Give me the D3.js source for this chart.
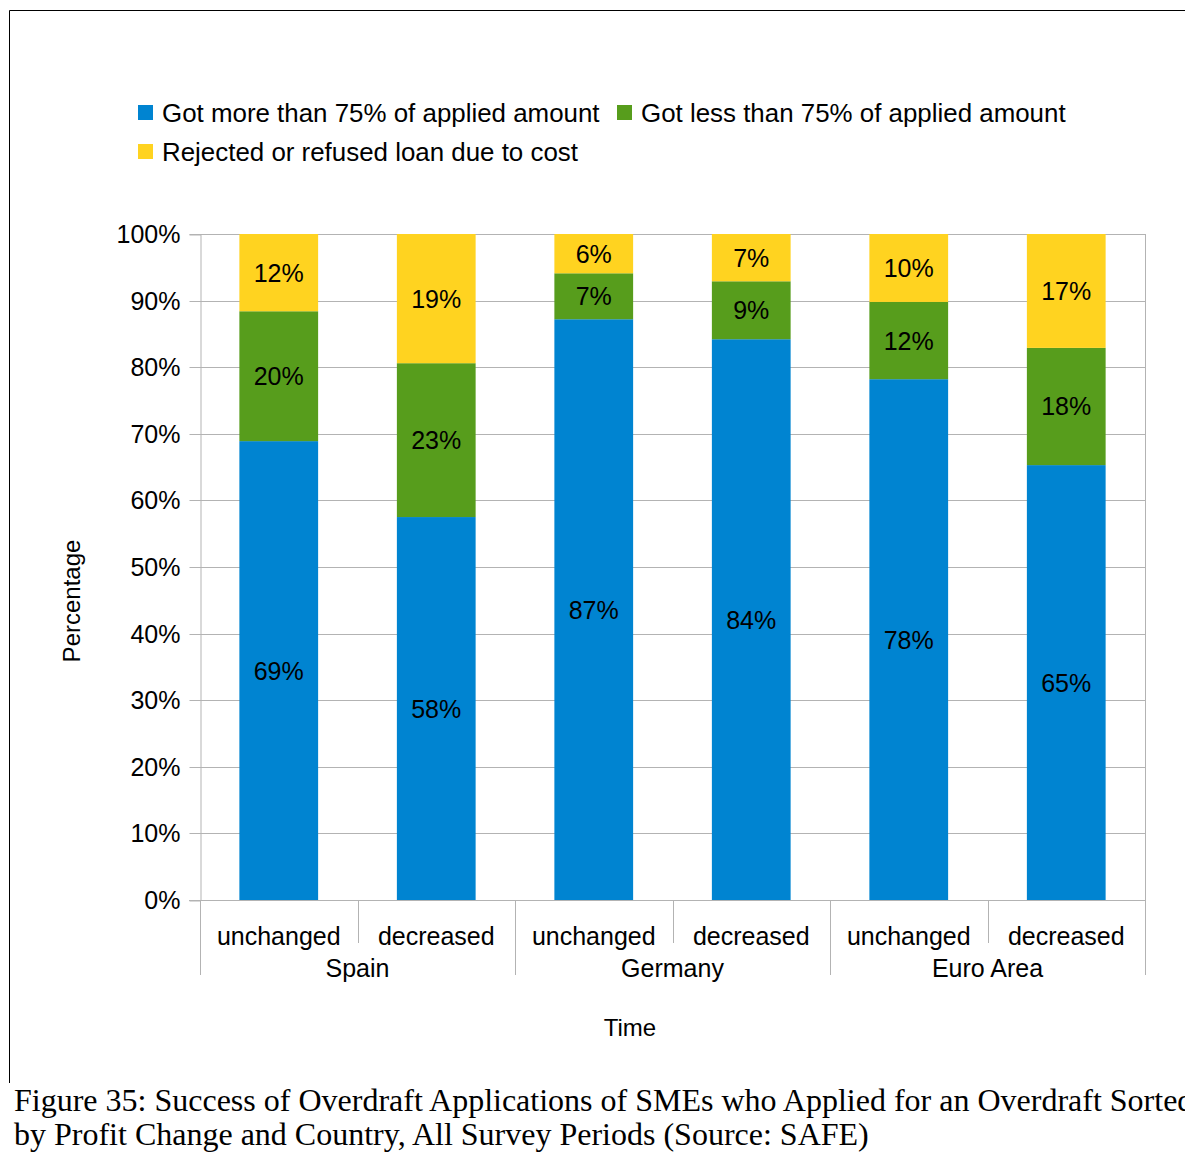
<!DOCTYPE html>
<html>
<head>
<meta charset="utf-8">
<script src="https://cdn.jsdelivr.net/npm/d3@7"></script>
<style>
  body { margin: 0; background: #fff; }
  svg text { font-family: "Liberation Sans", Arial, sans-serif; fill: #000; }
  .caption { font-family: "Liberation Serif", "Times New Roman", serif; }
</style>
</head>
<body>
<div id="chart"></div>
<script>
// data (percent of applicants)
const groups = ['Spain', 'Germany', 'Euro Area'];
const profitChange = ['unchanged', 'decreased'];
const gotMore = [68.9, 57.5, 87.2, 84.2, 78.2, 65.3];
const gotLess = [19.5, 23.1, 6.9, 8.7, 11.6, 17.6];
const rejected = [11.6, 19.4, 5.9, 7.1, 10.2, 17.1];
const seriesNames = ['Got more than 75% of applied amount', 'Got less than 75% of applied amount', 'Rejected or refused loan due to cost'];
const colors = ['#0084d1', '#579d1c', '#ffd320'];
const yTicks = [0, 0.1, 0.2, 0.3, 0.4, 0.5, 0.6, 0.7, 0.8, 0.9, 1];

const width = 1185, height = 1153;
const margin = { top: 234, right: 40, bottom: 253, left: 200 };

const rows = [];
groups.forEach((g, gi) => {
    profitChange.forEach((p, pi) => {
        const i = gi * profitChange.length + pi;
        rows.push({ id: i, group: g, change: p, more: gotMore[i], less: gotLess[i], rej: rejected[i] });
    });
});
const keys = ['more', 'less', 'rej'];

const svg = d3.select('#chart').append('svg')
    .attr('width', width)
    .attr('height', height);

// frame
svg.append('path')
    .attr('d', 'M9.5,1083 V10.5 H' + width)
    .attr('fill', 'none')
    .attr('stroke', '#000')
    .attr('stroke-width', 1);

const x = d3.scaleBand()
    .domain(rows.map(d => d.id))
    .range([margin.left, width - margin.right])
    .paddingInner(0.5)
    .paddingOuter(0.25);
const y = d3.scaleLinear()
    .domain([0, 1])
    .range([height - margin.bottom, margin.top]);

const x0 = margin.left, x1 = width - margin.right;

// gridlines
svg.append('g').selectAll('line')
    .data(yTicks)
    .join('line')
    .attr('x1', x0).attr('x2', x1)
    .attr('y1', d => Math.round(y(d)) + 0.5).attr('y2', d => Math.round(y(d)) + 0.5)
    .attr('stroke', '#b3b3b3');
svg.append('line')
    .attr('x1', x1 + 0.5).attr('x2', x1 + 0.5)
    .attr('y1', y(1)).attr('y2', y(0))
    .attr('stroke', '#b3b3b3');

// y axis
const yAxis = svg.append('g')
    .attr('transform', 'translate(' + (x0 + 0.5) + ',0.5)')
    .call(d3.axisLeft(y).tickValues(yTicks).tickFormat(d3.format('.0%')).tickSize(11).tickPadding(9));
yAxis.select('.domain').attr('stroke', '#b3b3b3');
yAxis.selectAll('.tick line').attr('stroke', '#b3b3b3');
yAxis.selectAll('.tick text')
    .attr('font-size', 25)
    .attr('font-family', '"Liberation Sans", Arial, sans-serif')
    .attr('fill', '#000');
// snap ticks to whole pixels
yAxis.selectAll('.tick').attr('transform', d => 'translate(0,' + Math.round(y(d)) + ')');

// bars
const stack = d3.stack().keys(keys).offset(d3.stackOffsetExpand);
const stacked = stack(rows);
const layer = svg.append('g').selectAll('g')
    .data(stacked)
    .join('g')
    .attr('fill', (d, i) => colors[i]);
layer.selectAll('rect')
    .data(d => d)
    .join('rect')
    .attr('x', d => x(d.data.id))
    .attr('width', x.bandwidth())
    .attr('y', d => y(d[1]))
    .attr('height', d => y(d[0]) - y(d[1]));
layer.each(function (s) {
    d3.select(this).selectAll('text')
        .data(s)
        .join('text')
        .attr('x', d => x(d.data.id) + x.bandwidth() / 2)
        .attr('y', d => (y(d[0]) + y(d[1])) / 2)
        .attr('text-anchor', 'middle')
        .attr('dominant-baseline', 'central')
        .attr('font-size', 25)
        .text(d => Math.round(d.data[s.key]) + '%');
});

// x axis: baseline, separators, labels
const step = x.step();
const edge = i => (i < rows.length ? x(i) - step * 0.25 : x1);
svg.append('line')
    .attr('x1', x0 - 11).attr('x2', x1)
    .attr('y1', Math.round(y(0)) + 0.5).attr('y2', Math.round(y(0)) + 0.5)
    .attr('stroke', '#b3b3b3');
svg.append('g').selectAll('line')
    .data(d3.range(rows.length + 1))
    .join('line')
    .attr('x1', i => Math.round(edge(i)) + 0.5)
    .attr('x2', i => Math.round(edge(i)) + 0.5)
    .attr('y1', y(0))
    .attr('y2', i => (i % 2 === 0 ? y(0) + 75 : y(0) + 43))
    .attr('stroke', '#b3b3b3');
svg.append('g').selectAll('text')
    .data(rows)
    .join('text')
    .attr('x', d => x(d.id) + x.bandwidth() / 2)
    .attr('y', y(0) + 45)
    .attr('text-anchor', 'middle')
    .attr('font-size', 25)
    .text(d => d.change);
svg.append('g').selectAll('text')
    .data(groups)
    .join('text')
    .attr('x', (g, gi) => (edge(gi * 2) + edge(gi * 2 + 2)) / 2)
    .attr('y', y(0) + 77)
    .attr('text-anchor', 'middle')
    .attr('font-size', 25)
    .text(g => g);

// axis titles
svg.append('text')
    .attr('transform', 'translate(80,601) rotate(-90)')
    .attr('text-anchor', 'middle')
    .attr('font-size', 24)
    .text('Percentage');
svg.append('text')
    .attr('x', 630)
    .attr('y', 1036)
    .attr('text-anchor', 'middle')
    .attr('font-size', 24)
    .text('Time');

// legend
const legendPos = [[138, 105], [617, 105], [138, 144]];
const legend = svg.append('g').selectAll('g')
    .data(seriesNames)
    .join('g')
    .attr('transform', (d, i) => 'translate(' + legendPos[i][0] + ',' + legendPos[i][1] + ')');
legend.append('rect')
    .attr('width', 15).attr('height', 15)
    .attr('fill', (d, i) => colors[i]);
legend.append('text')
    .attr('x', 24)
    .attr('y', 8)
    .attr('dominant-baseline', 'central')
    .attr('font-size', 25.9)
    .text(d => d);

// caption
const caption = svg.append('text')
    .attr('class', 'caption')
    .attr('font-size', 32);
caption.append('tspan').attr('x', 14).attr('y', 1111)
    .text('Figure 35: Success of Overdraft Applications of SMEs who Applied for an Overdraft Sorted');
caption.append('tspan').attr('x', 14).attr('y', 1145)
    .text('by Profit Change and Country, All Survey Periods (Source: SAFE)');
</script>
</body>
</html>
